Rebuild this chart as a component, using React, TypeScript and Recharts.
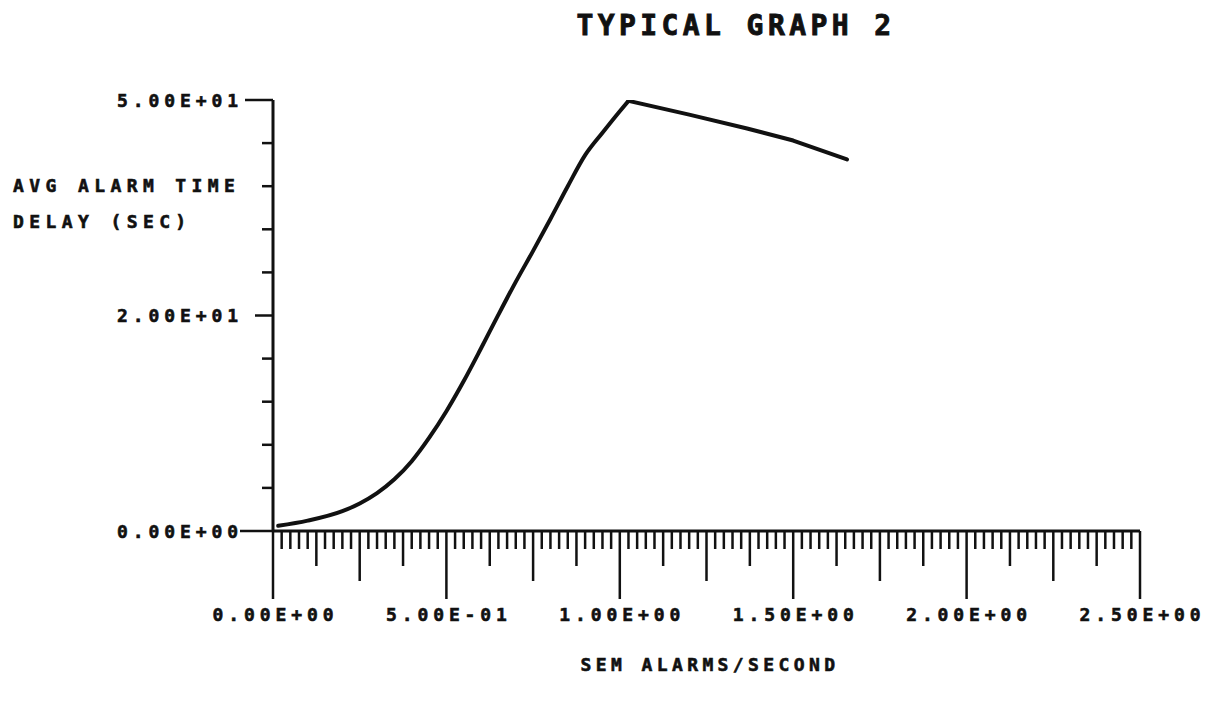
import React from 'react';
import { LineChart, Line, XAxis, YAxis, Customized } from 'recharts';

// ---- data ----
const rateValues = [0.015, 0.1, 0.2, 0.25, 0.3, 0.35, 0.4, 0.45, 0.5, 0.55, 0.6, 0.65, 0.7, 0.75, 0.8, 0.85, 0.9, 0.95, 1.0, 1.025, 1.2, 1.367, 1.5, 1.655];
const delayValues = [0.6, 1.2, 2.3, 3.2, 4.4, 6.0, 8.1, 10.8, 13.9, 17.4, 21.2, 25.1, 28.9, 32.5, 36.2, 40.0, 43.6, 46.2, 48.7, 49.9, 48.3, 46.7, 45.3, 43.1];
const peakIndex = 19;

const xLabelValues = [0, 0.5, 1.0, 1.5, 2.0, 2.5];
const xLabelTexts = ['0.00E+00', '5.00E-01', '1.00E+00', '1.50E+00', '2.00E+00', '2.50E+00'];
const xTickStep = 0.025;
const xTickValues = Array.from({ length: 101 }, (_, i) => Math.round(i * xTickStep * 1000) / 1000);

const yTickValues = [0, 5, 10, 15, 20, 25, 30, 35, 40, 45, 50];
const yLabelValues = [0, 25, 50];
const yLabelTexts = ['0.00E+00', '2.00E+01', '5.00E+01'];

const title = 'TYPICAL GRAPH 2';
const yTitleLines = ['AVG ALARM TIME', 'DELAY (SEC)'];
const xTitle = 'SEM ALARMS/SECOND';

const data = rateValues.map((x, i) => ({
  x,
  rise: i <= peakIndex ? delayValues[i] : null,
  fall: i >= peakIndex ? delayValues[i] : null,
}));

const FONT = '"DejaVu Sans Mono", monospace';
const INK = '#111';

const textStyle = {
  fontFamily: FONT,
  fontWeight: 'bold' as const,
  fill: INK,
  stroke: INK,
  strokeWidth: 0.6,
};

const isMult = (v: number, step: number) => Math.abs(v / step - Math.round(v / step)) < 1e-6;

const XTick = (props: any) => {
  const { x, y, payload } = props;
  const v = payload.value;
  const len = isMult(v, 0.5) ? 68 : isMult(v, 0.25) ? 50 : isMult(v, 0.125) ? 35 : 18;
  const idx = xLabelValues.findIndex((l) => Math.abs(l - v) < 1e-6);
  return (
    <g>
      <line x1={x} x2={x} y1={y} y2={y + len} stroke={INK} strokeWidth={2.5} />
      {idx >= 0 && (
        <text x={x + 2.5} y={y + 90} textAnchor="middle" fontSize={18} letterSpacing={4.9} {...textStyle}>
          {xLabelTexts[idx]}
        </text>
      )}
    </g>
  );
};

const YTick = (props: any) => {
  const { x, y, payload } = props;
  const v = payload.value;
  const len = v === 50 ? 28 : v === 25 ? 18 : v === 0 ? 33 : 11;
  const idx = yLabelValues.indexOf(v);
  return (
    <g>
      <line x1={x - len} x2={x} y1={y} y2={y} stroke={INK} strokeWidth={2.5} />
      {idx >= 0 && (
        <text x={243} y={y + 6.5} textAnchor="end" fontSize={18} letterSpacing={4.9} {...textStyle}>
          {yLabelTexts[idx]}
        </text>
      )}
    </g>
  );
};

const Titles = () => (
  <g>
    <text x={736} y={35} textAnchor="middle" fontSize={28} letterSpacing={4.4} {...textStyle} strokeWidth={0.9}>
      {title}
    </text>
    {yTitleLines.map((t, i) => (
      <text key={t} x={13} y={192 + i * 36} textAnchor="start" fontSize={18} letterSpacing={5.4} {...textStyle}>
        {t}
      </text>
    ))}
    <text x={710} y={671} textAnchor="middle" fontSize={18} letterSpacing={4.4} {...textStyle}>
      {xTitle}
    </text>
  </g>
);

export default function App() {
  return (
    <div style={{ position: 'absolute', left: 0, top: 0, background: '#fff' }}>
      <LineChart width={1210} height={701} data={data} margin={{ top: 100, right: 70, bottom: 140, left: 0 }}>
        <XAxis
          dataKey="x"
          type="number"
          domain={[0, 2.5]}
          ticks={xTickValues}
          interval={0}
          tickSize={0}
          tickMargin={0}
          tickLine={false}
          tick={<XTick />}
          height={30}
          axisLine={{ stroke: INK, strokeWidth: 3 }}
          allowDataOverflow
        />
        <YAxis
          type="number"
          domain={[0, 50]}
          ticks={yTickValues}
          interval={0}
          tickSize={0}
          tickMargin={0}
          tickLine={false}
          tick={<YTick />}
          width={273}
          axisLine={{ stroke: INK, strokeWidth: 3 }}
          allowDataOverflow
        />
        <Line
          type="monotone"
          dataKey="rise"
          stroke={INK}
          strokeWidth={4}
          strokeLinejoin="round"
          strokeLinecap="round"
          dot={false}
          isAnimationActive={false}
        />
        <Line
          type="linear"
          dataKey="fall"
          stroke={INK}
          strokeWidth={4}
          strokeLinejoin="round"
          strokeLinecap="round"
          dot={false}
          isAnimationActive={false}
        />
        <Customized component={Titles} />
      </LineChart>
    </div>
  );
}
